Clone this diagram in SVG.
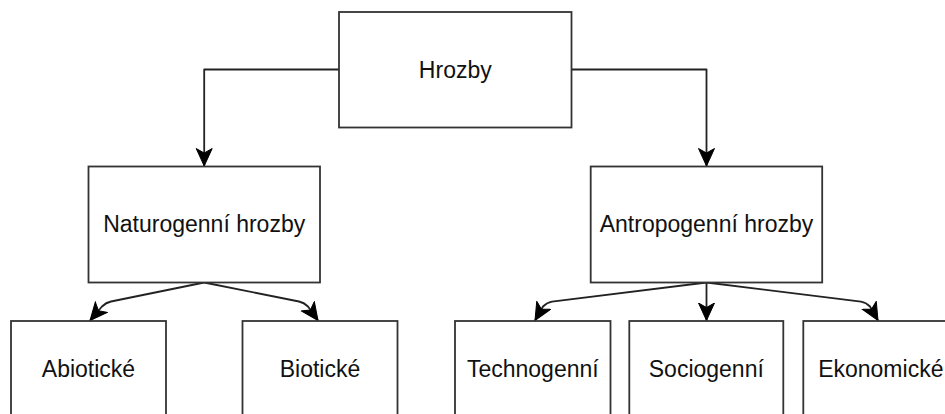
<svg xmlns="http://www.w3.org/2000/svg" width="945" height="414" viewBox="0 0 945 414">
<style>
.box{fill:#fff;stroke:#333;stroke-width:1.8}
.lbl{font-family:"Liberation Sans",Arial,Helvetica,sans-serif;font-size:23px;fill:#111;text-anchor:middle}
.edge{fill:none;stroke:#222;stroke-width:1.8;stroke-linejoin:round}
</style>
<defs>
<marker id="arr" markerUnits="userSpaceOnUse" markerWidth="20" markerHeight="18" refX="18" refY="8.5" orient="auto" viewBox="0 0 20 18">
<path d="M0.5,0.5 L18,8.5 L0.5,16.5 L5,8.5 Z" fill="#000" stroke="#000" stroke-width="1" stroke-linejoin="miter"/>
</marker>
</defs>
<rect width="945" height="414" fill="#fff"/>
<g id="connectors">
<path class="edge" d="M339,69.5 H204.2 V166" marker-end="url(#arr)"/>
<path class="edge" d="M571.5,69.5 H706.5 V166" marker-end="url(#arr)"/>
<path class="edge" d="M204.2,282.5 L111,301.5 Q106,302.5 102,306.5 L90,320.5" marker-end="url(#arr)"/>
<path class="edge" d="M204.2,282.5 L299,301.5 Q304,302.5 308,306.5 L318,320.5" marker-end="url(#arr)"/>
<path class="edge" d="M706.5,282.5 L552,301.7 Q547,302.5 543,306.5 L535,320.5" marker-end="url(#arr)"/>
<path class="edge" d="M706.5,282.5 V320.5" marker-end="url(#arr)"/>
<path class="edge" d="M706.5,282.5 L861,301.7 Q866,302.5 870,306.5 L878,320.5" marker-end="url(#arr)"/>
</g>
<g id="hrozby">
<rect class="box" x="339" y="12" width="232.5" height="115.5"/>
<text class="lbl" x="455.3" y="77.5">Hrozby</text>
</g>
<g id="naturogenni">
<rect class="box" x="88.5" y="166.5" width="231.5" height="116"/>
<text class="lbl" x="204.2" y="232">Naturogenní hrozby</text>
</g>
<g id="antropogenni">
<rect class="box" x="590.7" y="166.5" width="231.5" height="116"/>
<text class="lbl" x="706.5" y="232">Antropogenní hrozby</text>
</g>
<g id="abioticke">
<rect class="box" x="11" y="321" width="155" height="116"/>
<text class="lbl" x="88.5" y="377">Abiotické</text>
</g>
<g id="bioticke">
<rect class="box" x="242.5" y="321" width="155" height="116"/>
<text class="lbl" x="320" y="377">Biotické</text>
</g>
<g id="technogenni">
<rect class="box" x="455" y="321" width="155.5" height="116"/>
<text class="lbl" x="532.8" y="377">Technogenní</text>
</g>
<g id="sociogenni">
<rect class="box" x="629.3" y="321" width="154" height="116"/>
<text class="lbl" x="706.3" y="377">Sociogenní</text>
</g>
<g id="ekonomicke">
<rect class="box" x="803.3" y="321" width="155" height="116"/>
<text class="lbl" x="880.8" y="377">Ekonomické</text>
</g>
</svg>
